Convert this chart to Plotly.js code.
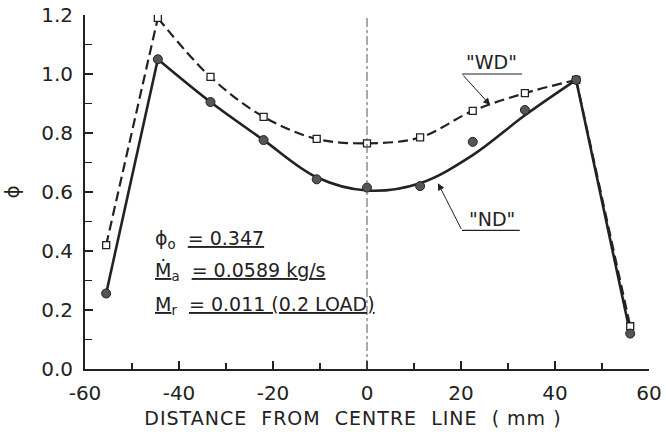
<!DOCTYPE html>
<html>
<head>
<meta charset="utf-8">
<script src="https://cdn.plot.ly/plotly-3.0.1.min.js"></script>
<style>html,body{margin:0;padding:0;background:#fff;}#chart{width:666px;height:438px;}</style>
</head>
<body>
<div id="chart"></div>
<script>
// Measured points (distance from centre line, mm)
const xPts = [-55.5, -44.5, -33.3, -22, -10.7, 0, 11.3, 22.5, 33.6, 44.5, 56];
// "WD" series (open squares)
const wdY = [0.42, 1.19, 0.99, 0.855, 0.78, 0.765, 0.785, 0.875, 0.935, 0.98, 0.145];
// "ND" series (filled circles)
const ndY = [0.256, 1.05, 0.905, 0.776, 0.643, 0.615, 0.62, 0.77, 0.878, 0.98, 0.12];
// Faired "ND" curve through the central region
const ndCurveX = [-44.5, -33.3, -22, -10.7, 0, 11.3, 22.5, 33.6, 44.5];
const ndCurveY = [1.05, 0.905, 0.776, 0.65, 0.605, 0.63, 0.725, 0.86, 0.98];
const xTicks = [-60, -40, -20, 0, 20, 40, 60];
const yTicks = [0, 0.2, 0.4, 0.6, 0.8, 1.0, 1.2];

const ink = '#222';
const font = 'DejaVu Sans, sans-serif';
const n = xPts.length;

const solid = {color: ink, width: 2.6};
const dashed = {color: ink, width: 2.2, dash: '10px,5px'};

const traces = [
  {x: xPts.slice(0, 2), y: ndY.slice(0, 2), mode: 'lines', line: solid},
  {x: ndCurveX, y: ndCurveY, mode: 'lines', line: Object.assign({shape: 'spline', smoothing: 1}, solid)},
  {x: xPts.slice(n - 2), y: ndY.slice(n - 2), mode: 'lines', line: solid},
  {x: xPts.slice(0, 2), y: wdY.slice(0, 2), mode: 'lines', line: dashed},
  {x: xPts.slice(1, n - 1), y: wdY.slice(1, n - 1), mode: 'lines', line: Object.assign({shape: 'spline', smoothing: 1}, dashed)},
  {x: xPts.slice(n - 2), y: wdY.slice(n - 2), mode: 'lines', line: dashed},
  {x: xPts, y: wdY, mode: 'markers', marker: {symbol: 'square', size: 7, color: '#fff', line: {color: ink, width: 1.3}}},
  {x: xPts, y: ndY, mode: 'markers', marker: {symbol: 'circle', size: 9, color: '#555', line: {color: ink, width: 1}}}
];

const annFont = {family: font, size: 19, color: ink};
const layout = {
  width: 666, height: 438,
  margin: {l: 85, r: 17, t: 15, b: 69},
  paper_bgcolor: '#fff', plot_bgcolor: '#fff',
  showlegend: false,
  font: {family: font, color: ink},
  xaxis: {
    range: [-60, 60], tickvals: xTicks, ticktext: xTicks.map(String),
    ticks: 'inside', ticklen: 8, tickwidth: 1.5, tickcolor: ink,
    minor: {dtick: 10, ticks: 'inside', ticklen: 6, tickwidth: 1.5, tickcolor: ink},
    showline: true, linewidth: 2, linecolor: ink, showgrid: false, zeroline: false,
    tickfont: {family: font, size: 20, color: ink}, ticklabelstandoff: 5,
    title: {text: '<span style="letter-spacing:1px">DISTANCE  FROM  CENTRE  LINE  ( mm )&nbsp;&nbsp;&nbsp;&nbsp;</span>', font: {family: font, size: 19, color: ink}, standoff: 8}
  },
  yaxis: {
    range: [0, 1.2], tickvals: yTicks, ticktext: yTicks.map(v => v.toFixed(1)),
    ticks: 'inside', ticklen: 8, tickwidth: 1.5, tickcolor: ink,
    minor: {dtick: 0.1, ticks: 'inside', ticklen: 7, tickwidth: 1.5, tickcolor: ink},
    showline: true, linewidth: 2, linecolor: ink, showgrid: false, zeroline: false,
    tickfont: {family: font, size: 20, color: ink}, ticklabelstandoff: 6,
    title: {text: 'ϕ', font: {family: font, size: 20, color: ink}, standoff: 18}
  },
  shapes: [
    {type: 'line', xref: 'x', yref: 'y', x0: 0, x1: 0, y0: 0, y1: 1.2, line: {color: '#555', width: 1, dash: 'dashdot'}},
    {type: 'line', xref: 'x', yref: 'y', x0: 20.2, x1: 33, y0: 1.0, y1: 1.0, line: {color: ink, width: 1.2}},
    {type: 'line', xref: 'x', yref: 'y', x0: 20.2, x1: 32.5, y0: 0.47, y1: 0.47, line: {color: ink, width: 1.2}}
  ],
  annotations: [
    {xref: 'x', yref: 'y', x: -45.5, y: 0.44, xanchor: 'left', yanchor: 'middle', showarrow: false, font: annFont,
     text: 'ϕ<sub>o</sub>  <u>= 0.347</u>'},
    {xref: 'x', yref: 'y', x: -45.5, y: 0.33, xanchor: 'left', yanchor: 'middle', showarrow: false, font: annFont,
     text: '<u>Ṁ</u><sub>a</sub>  <u>= 0.0589 kg/s</u>'},
    {xref: 'x', yref: 'y', x: -45.5, y: 0.215, xanchor: 'left', yanchor: 'middle', showarrow: false, font: annFont,
     text: '<u>M</u><sub>r</sub>  <u>= 0.011 (0.2 LOAD)</u>'},
    {xref: 'x', yref: 'y', x: 26.5, y: 1.04, xanchor: 'center', yanchor: 'middle', showarrow: false, font: annFont, text: '"WD"'},
    {xref: 'x', yref: 'y', x: 26.5, y: 0.51, xanchor: 'center', yanchor: 'middle', showarrow: false, font: annFont, text: '"ND"'},
    {xref: 'x', yref: 'y', x: 26.2, y: 0.895, axref: 'x', ayref: 'y', ax: 20.2, ay: 1.0, text: '', showarrow: true,
     arrowhead: 2, arrowsize: 1.4, arrowwidth: 1, arrowcolor: ink},
    {xref: 'x', yref: 'y', x: 15.1, y: 0.63, axref: 'x', ayref: 'y', ax: 20.2, ay: 0.47, text: '', showarrow: true,
     arrowhead: 2, arrowsize: 1.4, arrowwidth: 1, arrowcolor: ink}
  ]
};

Plotly.newPlot('chart', traces, layout, {staticPlot: true, displayModeBar: false});
</script>
</body>
</html>
